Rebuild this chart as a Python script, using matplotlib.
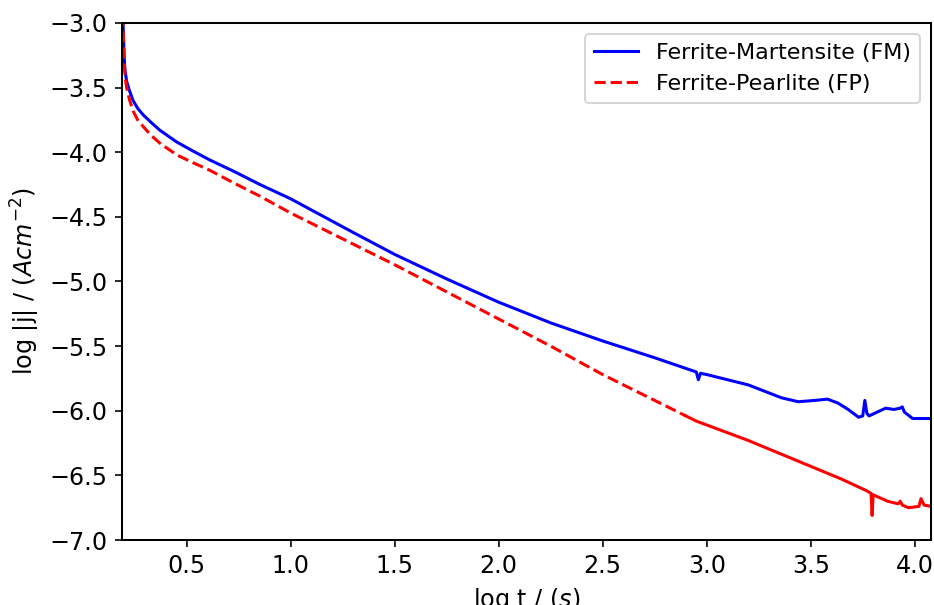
import numpy as np
import matplotlib.pyplot as plt

plt.rcParams['font.size'] = 11.8
plt.rcParams['axes.linewidth'] = 1.0

# log t (s) and log |j|
t_fm = [0.19, 0.195, 0.2, 0.204, 0.212, 0.225, 0.243, 0.265, 0.291, 0.33, 0.372, 0.452,
        0.53, 0.612, 0.73, 0.853, 1.0, 1.15, 1.3, 1.5, 1.75, 2.0, 2.25, 2.5, 2.75, 2.95,
        2.96, 2.97, 3.0, 3.2, 3.36, 3.44, 3.52, 3.58, 3.63, 3.68, 3.73, 3.75,
        3.76, 3.77, 3.78, 3.82, 3.86, 3.90, 3.93, 3.94, 3.95, 3.99, 4.03, 4.08]
j_fm = [-2.6, -3.0, -3.25, -3.36, -3.45, -3.52, -3.6, -3.66, -3.71, -3.77, -3.83, -3.92,
        -3.99, -4.06, -4.15, -4.25, -4.36, -4.49, -4.62, -4.79, -4.98, -5.16, -5.32, -5.46, -5.59, -5.70,
        -5.76, -5.71, -5.72, -5.80, -5.90, -5.93, -5.92, -5.91, -5.94, -5.99, -6.05, -6.04,
        -5.92, -6.02, -6.04, -6.01, -5.98, -5.99, -5.98, -5.97, -6.01, -6.06, -6.06, -6.06]

t_fp = [0.19, 0.195, 0.2, 0.205, 0.212, 0.227, 0.243, 0.265, 0.291, 0.33, 0.372, 0.452,
        0.53, 0.612, 0.73, 0.853, 1.0, 1.15, 1.3, 1.5, 1.75, 2.0, 2.25, 2.5, 2.75, 2.9,
        2.95, 3.0, 3.2, 3.35, 3.5, 3.65, 3.77, 3.79, 3.795, 3.80, 3.87, 3.92, 3.93,
        3.94, 3.97, 4.02, 4.03, 4.045, 4.08]
j_fp = [-2.6, -3.0, -3.3, -3.42, -3.5, -3.6, -3.68, -3.75, -3.80, -3.87, -3.93, -4.02,
        -4.08, -4.14, -4.24, -4.34, -4.47, -4.59, -4.71, -4.87, -5.08, -5.29, -5.50, -5.72, -5.92, -6.04,
        -6.08, -6.11, -6.23, -6.33, -6.43, -6.53, -6.62, -6.64, -6.81, -6.65, -6.70, -6.72, -6.70,
        -6.73, -6.75, -6.74, -6.68, -6.73, -6.74]

t_fp = np.array(t_fp)
j_fp = np.array(j_fp)
head = t_fp <= 2.9          # noisy tail of FP looks solid in the original
tail = t_fp >= 2.9

fig = plt.figure(figsize=(6.4, 4.144), dpi=146)
ax = fig.add_axes([0.1306, 0.1074, 0.8662, 0.8546])

ax.plot(t_fm, j_fm, color='blue', label='Ferrite-Martensite (FM)')
ax.plot(t_fp[head], j_fp[head], color='red', linestyle='--', label='Ferrite-Pearlite (FP)')
ax.plot(t_fp[tail], j_fp[tail], color='red', linestyle='-')

ax.set_xlim(0.19, 4.08)
ax.set_ylim(-7.0, -3.0)
ax.set_xticks([0.5, 1.0, 1.5, 2.0, 2.5, 3.0, 3.5, 4.0])
ax.set_xlabel('log t / ($s$)')
ax.set_ylabel('log |j| / ($Acm^{-2}$)')
ax.legend(loc='upper right', fontsize=11)

fig.savefig('out.png', dpi=146)
